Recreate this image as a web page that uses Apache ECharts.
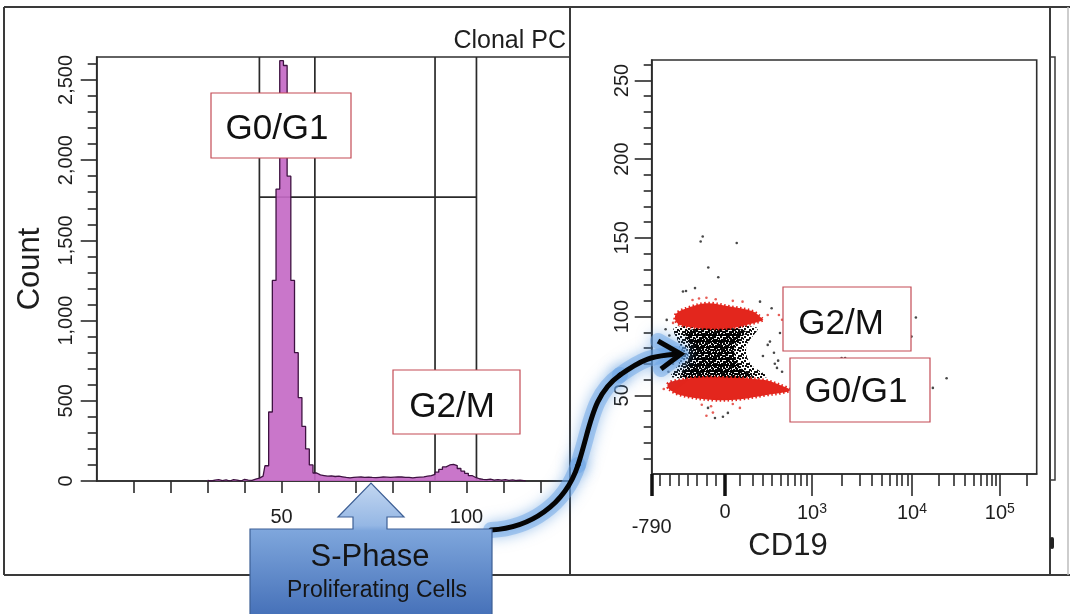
<!DOCTYPE html>
<html>
<head>
<meta charset="utf-8">
<title>Clonal PC – DNA histogram and CD19 scatter</title>
<script src="https://cdn.jsdelivr.net/npm/echarts@6.0.0/dist/echarts.min.js"></script>
<style>
html,body{margin:0;padding:0;background:#fff;}
#chart{width:1070px;height:614px;}
</style>
</head>
<body>
<div id="chart"></div>
<script>
// ================= DATA =================
// Left panel: DNA-content histogram (channel -> event count)
const histChannels = [30,31,32,33,34,35,36,37,38,39,40,41,42,43,44,45,46,47,48,49,50,51,52,53,54,55,56,57,58,59,60,61,62,63,64,65,66,67,68,69,70,71,72,73,74,75,76,77,78,79,80,81,82,83,84,85,86,87,88,89,90,91,92,93,94,95,96,97,98,99,100,101,102,103,104,105,106,107,108,109,110,111,112,113,114,115,116];
const histCounts = [4,0,6,9,3,7,0,8,5,0,
  10,6,4,12,18,30,95,430,1250,1820,
  2620,2590,1900,1250,800,520,340,200,100,50,
  38,34,30,32,28,30,26,22,20,22,
  24,25,23,24,22,21,23,25,24,22,
  24,26,25,23,22,20,22,24,26,30,
  34,42,55,72,88,100,104,96,78,62,
  48,34,22,14,10,8,12,6,9,5,
  8,4,7,3,6,2,0];
const histXMax = 128;
const histYMax = 2643;
const gateBounds = [44, 59, 91.5, 102.7];   // vertical gate lines (channel)
const gateLevel = 1770;                      // horizontal gate line (count)
const histXTicks = [10,20,30,40,50,60,70,80,90,100,110,120];
const histXLabels = [50,100];
const histYTicks = [0,500,1000,1500,2000,2500];
const histYMinorTicks = [100,200,300,400,600,700,800,900,1100,1200,1300,1400,1600,1700,1800,1900,2100,2200,2300,2400,2600];

// Right panel: CD19 (biexponential) vs DNA
const cd19Min = -790;
const cd19Max = 262144;
const dnaMax = 263;
const cd19MajorTicks = [0, 1000, 10000, 100000];
const cd19MajorLabels = ['0', '10|3', '10|4', '10|5'];
const cd19MinorTicks = [-700,-600,-500,-400,-300,-200,-100,100,200,300,400,500,600,700,800,900,2000,3000,4000,5000,6000,7000,8000,9000,20000,30000,40000,50000,60000,70000,80000,90000,200000];
const dnaTicks = [50,100,150,200,250];
const dnaMinorTicks = [10,20,30,40,60,70,80,90,110,120,130,140,160,170,180,190,210,220,230,240,260];

// Population outlines: [CD19, DNA]
const sPhaseOutline = [[-540,93],[240,93],[150,81],[180,70.4],[338,61.5],[-574,61.5],[-500,70.4],[-490,81]];
const sPhaseCore = [[-420,91],[140,91],[60,80],[100,68],[200,62],[-470,62],[-400,72],[-390,82]];
const g2mOutline = [[-539,98.3],[-520,102.2],[-413,105.3],[-197,108.5],[31,106.4],[209,103.2],[287,99.0],[303,97.9],[209,95.8],[31,92.6],[-234,92.6],[-485,94.7]];
const g0g1Outline = [[-611,54.5],[-611,57.7],[-485,59.8],[-305,61.2],[31,61.2],[303,59.8],[493,56.6],[629,53.4],[536,51.7],[338,50.2],[101,47.5],[-126,47.0],[-485,50.2]];
// Individual events outside the dense populations
const blackEvents = [[-240,150.9],[-262,147.7],[77,146.7],[-180,131.2],[-72,125.0],[-420,116.3],[-323,118.1],[271,109.5],[393,105.3],[11100,99.4],[1980,73.6],[2150,73.6],[24800,60.8],[17300,54.7],[9900,87.3],[-22,36.4],[18,38.8],[-108,35.6],[-183,42.0],[456,67.4],[374,84.1],[493,89.6],[-628,97.9],[-453,115.9],[350,82],[420,77],[470,72],[430,70],[520,65],[300,75],[-600,88],[-640,92],[-590,78],[-560,70],[-610,65],[560,86],[610,84]];
const redEvents = [[-350,110.5],[-200,112],[-100,111],[50,110],[120,109.5],[-280,111.5],[-250,44],[-150,43],[50,44.5],[100,42],[700,53],[800,52],[-560,96],[350,101],[-660,54],[-130,39],[-200,37],[480,101],[520,98]];

// ================= SCALE (biexponential-style CD19 display transform) =================
function cd19Scale(v) {
  if (v < 0) return v * 73.3 / 790;
  if (v < 1000) return 87 * Math.log(1 + v / 450) / Math.log(1 + 1000 / 450);
  if (v < 10000) return 87 + 100 * Math.log10(v / 1000);
  return 187 + 88 * Math.log10(v / 10000);
}

// ================= RENDER =================
const FONT = '"Liberation Sans", Arial, Helvetica, sans-serif';
const INK = '#1e1e1e';

function dotPattern(size, dots, color, dot) {
  const cv = document.createElement('canvas');
  cv.width = size; cv.height = size;
  const ctx = cv.getContext('2d');
  ctx.fillStyle = color;
  dots.forEach(d => ctx.fillRect(d[0], d[1], dot, dot));
  return cv;
}
const sparseDots = dotPattern(8, [[0,0],[5,1],[2,3],[6,5],[3,6],[1,5],[4,3],[7,2]], '#111', 2);
const denseDots = dotPattern(6, [[0,0],[3,1],[1,3],[4,4],[2,5],[5,2],[0,4]], '#000', 2.1);

const cd19MajorD = cd19MajorTicks.map(cd19Scale);
const bandOutlines = [sPhaseOutline, sPhaseCore, g2mOutline, g0g1Outline];
const bandStyles = [
  {fill: {image: sparseDots, repeat: 'repeat'}},
  {fill: {image: denseDots, repeat: 'repeat'}},
  {fill: '#e3261d', stroke: '#e3261d', lineWidth: 3, lineDash: [1.5, 2.5]},
  {fill: '#e3261d', stroke: '#e3261d', lineWidth: 3, lineDash: [1.5, 2.5]}
];

const gateData = gateBounds.map(g => [g, 0, g, histYMax]);
gateData.push([gateBounds[0], gateLevel, gateBounds[3], gateLevel]);

const tickLabelStyle = {fontFamily: FONT, fontSize: 20, color: INK};

const chart = echarts.init(document.getElementById('chart'), null, {renderer: 'canvas'});

const graphicEls = [];
function gLine(x1, y1, x2, y2, w, c, z) {
  graphicEls.push({type: 'line', silent: true, z: z || 1, shape: {x1, y1, x2, y2}, style: {stroke: c || '#3a3a3a', lineWidth: w || 2}});
}
// panel frames
gLine(4, 7, 1070, 7, 2);
gLine(4, 7, 4, 575, 2);
gLine(4, 575, 1070, 575, 2);
gLine(570, 7, 570, 575, 2);
gLine(1050, 7, 1050, 575, 2);
gLine(1068, 7, 1068, 575, 1.5, '#bdbdbd');
graphicEls.push({type: 'polyline', silent: true, z: 1, shape: {points: [[1050,57],[1055,57],[1055,480],[1050,480]]}, style: {stroke: '#3a3a3a', lineWidth: 1.5, fill: null}});
graphicEls.push({type: 'rect', silent: true, z: 1, shape: {x: 1050, y: 537, width: 4, height: 12, r: 2}, style: {fill: '#222'}});

// "Clonal PC"
graphicEls.push({type: 'text', silent: true, z: 10, x: 566, y: 41, style: {text: 'Clonal PC', font: '25px ' + FONT, fill: INK, align: 'right', verticalAlign: 'middle'}});

// annotation boxes
function labelBox(x, y, w, h, text, tx, ty) {
  graphicEls.push({type: 'rect', silent: true, z: 20, shape: {x, y, width: w, height: h}, style: {fill: '#ffffff', stroke: '#c34b55', lineWidth: 1.2}});
  graphicEls.push({type: 'text', silent: true, z: 21, x: tx, y: ty, style: {text, font: '35px ' + FONT, fill: '#111', align: 'center', verticalAlign: 'middle'}});
}
labelBox(211, 93, 140, 65, 'G0/G1', 277, 129);
labelBox(393, 370, 127, 64, 'G2/M', 452, 407);
labelBox(783, 287, 128, 64, 'G2/M', 841, 324);
labelBox(790, 358, 140, 64, 'G0/G1', 856, 392);

// CD19 axis title
graphicEls.push({type: 'text', silent: true, z: 10, x: 788, y: 546, style: {text: 'CD19', font: '31px ' + FONT, fill: INK, align: 'center', verticalAlign: 'middle'}});

// curved arrow with blue glow (three cubic segments)
const arrowSegs = [
  {x1: 491, y1: 530, cpx1: 530, cpy1: 528, cpx2: 565, cpy2: 505, x2: 578, y2: 465},
  {x1: 578, y1: 465, cpx1: 591, cpy1: 425, cpx2: 592, cpy2: 395, x2: 620, y2: 375},
  {x1: 620, y1: 375, cpx1: 648, cpy1: 355, cpx2: 655, cpy2: 357, x2: 676, y2: 354}
];
const headPts = [[658,341],[681,354],[661,369]];
const glowStyle = {fill: null, stroke: 'rgba(110,165,230,0.5)', lineWidth: 16, shadowBlur: 14, shadowColor: '#4a8fdc', lineCap: 'round', lineJoin: 'round'};
const inkStyle = {fill: null, stroke: '#050505', lineWidth: 5, lineCap: 'round', lineJoin: 'round'};
arrowSegs.forEach(s => graphicEls.push({type: 'bezierCurve', silent: true, z: 30, shape: s, style: glowStyle}));
graphicEls.push({type: 'polyline', silent: true, z: 30, shape: {points: headPts}, style: glowStyle});
arrowSegs.forEach(s => graphicEls.push({type: 'bezierCurve', silent: true, z: 31, shape: s, style: inkStyle}));
graphicEls.push({type: 'polyline', silent: true, z: 31, shape: {points: headPts}, style: {fill: null, stroke: '#050505', lineWidth: 5, lineJoin: 'miter'}});

// S-Phase arrow box
graphicEls.push({type: 'polygon', silent: true, z: 40,
  shape: {points: [[250,529],[353,529],[353,517],[338,517],[371,483],[404,517],[387,517],[387,529],[492,529],[492,616],[250,616]]},
  style: {
    fill: new echarts.graphic.LinearGradient(0, 0, 0, 1, [
      {offset: 0, color: '#c3d7f1'}, {offset: 0.32, color: '#95b7e4'},
      {offset: 0.36, color: '#7ea6dc'}, {offset: 1, color: '#4570b8'}]),
    stroke: '#3d5f95', lineWidth: 1.2
  }});
graphicEls.push({type: 'text', silent: true, z: 41, x: 370, y: 557, style: {text: 'S-Phase', font: '31px ' + FONT, fill: '#151515', align: 'center', verticalAlign: 'middle'}});
graphicEls.push({type: 'text', silent: true, z: 41, x: 377, y: 591, style: {text: 'Proliferating Cells', font: '23px ' + FONT, fill: '#151515', align: 'center', verticalAlign: 'middle'}});

const axisLineStyle = {color: '#2a2a2a', width: 1.6};
const cdMin = cd19Scale(cd19Min), cdMax = cd19Scale(cd19Max);

const option = {
  animation: false,
  backgroundColor: '#ffffff',
  grid: [
    {left: 96.7, top: 57, width: 473.3, height: 424, show: true, borderColor: '#2f2f2f', borderWidth: 1.6, backgroundColor: 'transparent'},
    {left: 651.7, top: 60, width: 385, height: 414, show: true, borderColor: '#2f2f2f', borderWidth: 1.6, backgroundColor: 'transparent'}
  ],
  xAxis: [
    {gridIndex: 0, type: 'value', position: 'bottom', offset: 0, min: 0, max: histXMax,
      axisLine: {onZero: false, lineStyle: axisLineStyle},
      axisTick: {customValues: histXTicks, length: 12, lineStyle: axisLineStyle},
      axisLabel: {customValues: histXLabels, margin: 26, ...tickLabelStyle},
      splitLine: {show: false}},
    {gridIndex: 1, type: 'value', position: 'bottom', offset: 0, min: cdMin, max: cdMax,
      axisLine: {onZero: false, lineStyle: axisLineStyle},
      axisTick: {customValues: cd19MajorD, length: 22, lineStyle: axisLineStyle},
      axisLabel: {customValues: cd19MajorD, margin: 28,
        formatter: v => {
          const i = cd19MajorD.findIndex(d => Math.abs(d - v) < 1e-6);
          const parts = cd19MajorLabels[i].split('|');
          return parts.length > 1 ? '{b|' + parts[0] + '}{s|' + parts[1] + '}' : '{b|' + parts[0] + '}';
        },
        rich: {b: {fontFamily: FONT, fontSize: 20, color: INK}, s: {fontFamily: FONT, fontSize: 14, color: INK, verticalAlign: 'top', padding: [0, 0, 8, 0]}}},
      splitLine: {show: false}},
    {gridIndex: 1, type: 'value', position: 'bottom', offset: 0, min: cdMin, max: cdMax,
      axisLine: {show: false, onZero: false},
      axisTick: {customValues: cd19MinorTicks.map(cd19Scale), length: 12, lineStyle: axisLineStyle},
      axisLabel: {show: false}, splitLine: {show: false}},
    {gridIndex: 1, type: 'value', position: 'bottom', offset: 0, min: cdMin, max: cdMax,
      axisLine: {show: false, onZero: false},
      axisTick: {customValues: [cdMin, cd19Scale(0)], length: 22, lineStyle: {color: '#111', width: 3.5}},
      axisLabel: {customValues: [cdMin], margin: 43, formatter: () => String(cd19Min), ...tickLabelStyle},
      splitLine: {show: false}}
  ],
  yAxis: [
    {gridIndex: 0, type: 'value', position: 'left', offset: 0, min: 0, max: histYMax,
      axisLine: {show: true, onZero: false, lineStyle: axisLineStyle},
      axisTick: {show: true, customValues: histYTicks, length: 16, lineStyle: axisLineStyle},
      axisLabel: {customValues: histYTicks, rotate: 90, margin: 20, formatter: v => v.toLocaleString('en-US'), ...tickLabelStyle},
      splitLine: {show: false},
      name: 'Count', nameLocation: 'middle', nameGap: 51,
      nameTextStyle: {fontFamily: FONT, fontSize: 31, color: INK}},
    {gridIndex: 0, type: 'value', position: 'left', offset: 0, min: 0, max: histYMax,
      axisLine: {show: false, onZero: false},
      axisTick: {show: true, customValues: histYMinorTicks, length: 9, lineStyle: axisLineStyle},
      axisLabel: {show: false}, splitLine: {show: false}},
    {gridIndex: 1, type: 'value', position: 'left', offset: 0, min: 0, max: dnaMax,
      axisLine: {show: true, onZero: false, lineStyle: axisLineStyle},
      axisTick: {show: true, customValues: dnaTicks, length: 17, lineStyle: axisLineStyle},
      axisLabel: {customValues: dnaTicks, rotate: 90, margin: 19, ...tickLabelStyle},
      splitLine: {show: false}},
    {gridIndex: 1, type: 'value', position: 'left', offset: 0, min: 0, max: dnaMax,
      axisLine: {show: false, onZero: false},
      axisTick: {show: true, customValues: dnaMinorTicks, length: 8, lineStyle: axisLineStyle},
      axisLabel: {show: false}, splitLine: {show: false}}
  ],
  series: [
    {type: 'custom', name: 'gates', xAxisIndex: 0, yAxisIndex: 0, z: 1, silent: true,
      data: gateData,
      renderItem: (params, api) => {
        const p1 = api.coord([api.value(0), api.value(1)]);
        const p2 = api.coord([api.value(2), api.value(3)]);
        return {type: 'line', shape: {x1: p1[0], y1: p1[1], x2: p2[0], y2: p2[1]}, style: {stroke: '#2a2a2a', lineWidth: 1.7}};
      }},
    {type: 'line', name: 'DNA', xAxisIndex: 0, yAxisIndex: 0, z: 3, silent: true,
      step: 'middle', symbol: 'none',
      data: histChannels.map((c, i) => [c, histCounts[i]]),
      lineStyle: {color: '#3e1241', width: 1.3},
      areaStyle: {color: '#c46ac6', opacity: 0.92}},
    {type: 'custom', name: 'populations', xAxisIndex: 1, yAxisIndex: 2, z: 3, silent: true, clip: true,
      data: bandOutlines.map(o => [cd19Scale(o[0][0]), o[0][1]]),
      renderItem: (params, api) => {
        const pts = bandOutlines[params.dataIndex].map(p => api.coord([cd19Scale(p[0]), p[1]]));
        return {type: 'polygon', shape: {points: pts, smooth: 0.35}, style: bandStyles[params.dataIndex]};
      }},
    {type: 'scatter', name: 'events', xAxisIndex: 1, yAxisIndex: 2, z: 4, silent: true,
      symbolSize: 2.6, itemStyle: {color: '#1a1a1a'},
      data: blackEvents.map(p => [cd19Scale(p[0]), p[1]])},
    {type: 'scatter', name: 'events-red', xAxisIndex: 1, yAxisIndex: 2, z: 4, silent: true,
      symbolSize: 2.6, itemStyle: {color: '#e0352c'},
      data: redEvents.map(p => [cd19Scale(p[0]), p[1]])}
  ],
  graphic: {elements: graphicEls}
};
chart.setOption(option);
</script>
</body>
</html>
